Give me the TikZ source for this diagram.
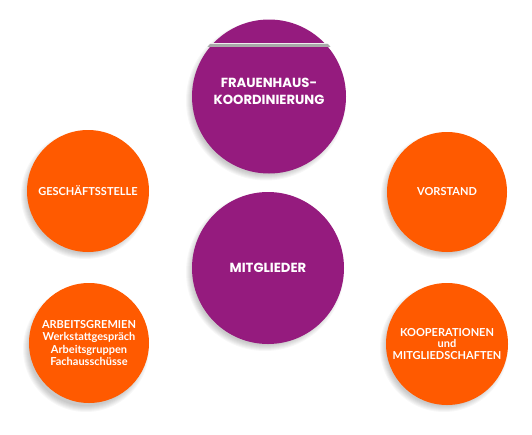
\documentclass[tikz,border=0pt]{standalone}
\usepackage{fontspec}
\setmainfont{Lato}
\newfontfamily\poppfont{Poppins}
\definecolor{mpurple}{HTML}{951B7E}
\definecolor{morange}{HTML}{FF5A00}
\definecolor{bandgrey}{HTML}{A9A9A9}
\tikzset{
  bubble/.style={circle, inner sep=0pt, text=white, align=center},
  purplebubble/.style={bubble, fill=mpurple, font=\poppfont\bfseries\fontsize{13.2}{17}\selectfont},
  orangebubble/.style={bubble, fill=morange, font=\bfseries\fontsize{11}{12.3}\selectfont},
}
\newcommand\softshadow[3]{%
  \foreach \k in {0,...,6}{\fill[black,opacity=0.03] ({#1-3},{#2+4}) circle ({#3+\k-3});}}
\begin{document}
\begin{tikzpicture}[x=1pt,y=-1pt]
\useasboundingbox[fill=white] (0,0) rectangle (532,434);
% shadows
\softshadow{269}{96.5}{77}
\softshadow{268}{268}{76}
\softshadow{88}{191}{61}
\softshadow{447}{192}{60}
\softshadow{89}{345}{60}
\softshadow{447}{344}{61}
% circles
\node[purplebubble, minimum size=154pt] (kord) at (269,96.5) {};
\node[font=\poppfont\bfseries\fontsize{13.2}{17}\selectfont, text=white, align=center] (kordtext) at (269,91.5) {FRAUENHAUS-\\KOORDINIERUNG};
\node[purplebubble, minimum size=152pt] (mitg) at (268,268) {MITGLIEDER};
\node[orangebubble, minimum size=122pt] (gesch) at (88,191) {GESCHÄFTSSTELLE};
\node[orangebubble, minimum size=120pt] (vor) at (447,192) {VORSTAND};
\node[orangebubble, minimum size=120pt] (arb) at (89,343) {ARBEITSGREMIEN\\Werkstattgespräch\\Arbeitsgruppen\\Fachausschüsse};
\node[orangebubble, minimum size=122pt, font=\bfseries\fontsize{11}{11.6}\selectfont] (koop) at (447,344) {KOOPERATIONEN\\und\\MITGLIEDSCHAFTEN};
% band across the top of the upper circle
\begin{scope}
\clip (269,96.5) circle (79);
\fill[white!80!bandgrey] (200,43.3) rectangle (338,44.2);
\fill[bandgrey] (200,44.2) rectangle (338,47.3);
\end{scope}
\end{tikzpicture}
\end{document}
